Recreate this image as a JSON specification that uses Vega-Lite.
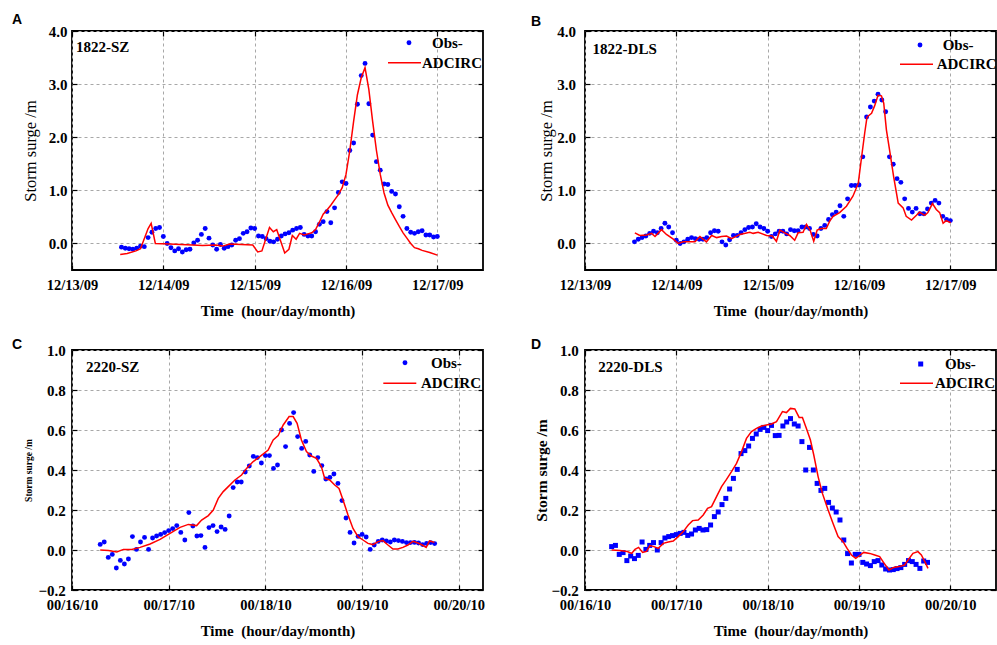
{
"$schema":"https://vega.github.io/schema/vega-lite/v6.json",
"autosize":{"type":"none"},
"padding":{"left":72,"top":31,"right":925,"bottom":614},
"background":"white",
"config":{
"view":{"stroke":"black","strokeWidth":1.8},
"axis":{"domain":false,"ticks":true,"tickSize":-5,"tickColor":"black","tickWidth":1.2,"labelFont":"Liberation Serif","labelFontWeight":"bold","labelFontSize":14.5,"labelColor":"black","labelFlush":false,"labelOverlap":false,"gridColor":"#a8a8a8","gridDash":[3,3],"gridWidth":1,"titleFont":"Liberation Serif","titleFontWeight":"bold","titleFontSize":15,"titleColor":"black"},
"legend":{"labelFont":"Liberation Serif","labelFontWeight":"bold","labelFontSize":15,"labelColor":"black","padding":0},
"title":{"font":"Liberation Sans","fontWeight":"bold","fontSize":14,"color":"black","anchor":"start","frame":"group"}
},
"datasets":{
"A":[
{"t":"2018-09-14T01:00","v":-0.07,"s":"Obs-"},{"t":"2018-09-14T02:00","v":-0.09,"s":"Obs-"},{"t":"2018-09-14T03:00","v":-0.10,"s":"Obs-"},{"t":"2018-09-14T04:00","v":-0.11,"s":"Obs-"},{"t":"2018-09-14T05:00","v":-0.09,"s":"Obs-"},{"t":"2018-09-14T06:00","v":-0.05,"s":"Obs-"},{"t":"2018-09-14T07:00","v":-0.06,"s":"Obs-"},{"t":"2018-09-14T08:00","v":0.11,"s":"Obs-"},{"t":"2018-09-14T09:00","v":0.21,"s":"Obs-"},{"t":"2018-09-14T10:00","v":0.28,"s":"Obs-"},{"t":"2018-09-14T11:00","v":0.30,"s":"Obs-"},{"t":"2018-09-14T12:00","v":0.13,"s":"Obs-"},{"t":"2018-09-14T13:00","v":0.00,"s":"Obs-"},{"t":"2018-09-14T14:00","v":-0.08,"s":"Obs-"},{"t":"2018-09-14T15:00","v":-0.14,"s":"Obs-"},{"t":"2018-09-14T16:00","v":-0.10,"s":"Obs-"},{"t":"2018-09-14T17:00","v":-0.16,"s":"Obs-"},{"t":"2018-09-14T18:00","v":-0.12,"s":"Obs-"},{"t":"2018-09-14T19:00","v":-0.11,"s":"Obs-"},{"t":"2018-09-14T20:00","v":0.01,"s":"Obs-"},{"t":"2018-09-14T21:00","v":0.06,"s":"Obs-"},{"t":"2018-09-14T22:00","v":0.17,"s":"Obs-"},{"t":"2018-09-14T23:00","v":0.28,"s":"Obs-"},
{"t":"2018-09-15T00:00","v":0.10,"s":"Obs-"},{"t":"2018-09-15T01:00","v":-0.03,"s":"Obs-"},{"t":"2018-09-15T02:00","v":-0.11,"s":"Obs-"},{"t":"2018-09-15T03:00","v":-0.02,"s":"Obs-"},{"t":"2018-09-15T04:00","v":-0.09,"s":"Obs-"},{"t":"2018-09-15T05:00","v":-0.06,"s":"Obs-"},{"t":"2018-09-15T06:00","v":-0.03,"s":"Obs-"},{"t":"2018-09-15T07:00","v":0.06,"s":"Obs-"},{"t":"2018-09-15T08:00","v":0.09,"s":"Obs-"},{"t":"2018-09-15T09:00","v":0.19,"s":"Obs-"},{"t":"2018-09-15T10:00","v":0.22,"s":"Obs-"},{"t":"2018-09-15T11:00","v":0.29,"s":"Obs-"},{"t":"2018-09-15T12:00","v":0.28,"s":"Obs-"},{"t":"2018-09-15T13:00","v":0.14,"s":"Obs-"},{"t":"2018-09-15T14:00","v":0.13,"s":"Obs-"},{"t":"2018-09-15T15:00","v":0.09,"s":"Obs-"},{"t":"2018-09-15T16:00","v":0.04,"s":"Obs-"},{"t":"2018-09-15T17:00","v":0.03,"s":"Obs-"},{"t":"2018-09-15T18:00","v":0.08,"s":"Obs-"},{"t":"2018-09-15T19:00","v":0.14,"s":"Obs-"},{"t":"2018-09-15T20:00","v":0.18,"s":"Obs-"},{"t":"2018-09-15T21:00","v":0.20,"s":"Obs-"},{"t":"2018-09-15T22:00","v":0.25,"s":"Obs-"},{"t":"2018-09-15T23:00","v":0.28,"s":"Obs-"},
{"t":"2018-09-16T00:00","v":0.30,"s":"Obs-"},{"t":"2018-09-16T01:00","v":0.17,"s":"Obs-"},{"t":"2018-09-16T02:00","v":0.14,"s":"Obs-"},{"t":"2018-09-16T03:00","v":0.14,"s":"Obs-"},{"t":"2018-09-16T04:00","v":0.22,"s":"Obs-"},{"t":"2018-09-16T05:00","v":0.36,"s":"Obs-"},{"t":"2018-09-16T06:00","v":0.41,"s":"Obs-"},{"t":"2018-09-16T07:00","v":0.60,"s":"Obs-"},{"t":"2018-09-16T08:00","v":0.39,"s":"Obs-"},{"t":"2018-09-16T09:00","v":0.67,"s":"Obs-"},{"t":"2018-09-16T10:00","v":0.96,"s":"Obs-"},{"t":"2018-09-16T11:00","v":1.16,"s":"Obs-"},{"t":"2018-09-16T12:00","v":1.13,"s":"Obs-"},{"t":"2018-09-16T13:00","v":1.75,"s":"Obs-"},{"t":"2018-09-16T14:00","v":1.89,"s":"Obs-"},{"t":"2018-09-16T15:00","v":2.62,"s":"Obs-"},{"t":"2018-09-16T16:00","v":3.16,"s":"Obs-"},{"t":"2018-09-16T17:00","v":3.39,"s":"Obs-"},{"t":"2018-09-16T18:00","v":2.63,"s":"Obs-"},{"t":"2018-09-16T19:00","v":2.04,"s":"Obs-"},{"t":"2018-09-16T20:00","v":1.54,"s":"Obs-"},{"t":"2018-09-16T21:00","v":1.38,"s":"Obs-"},{"t":"2018-09-16T22:00","v":1.12,"s":"Obs-"},{"t":"2018-09-16T23:00","v":1.11,"s":"Obs-"},
{"t":"2018-09-17T00:00","v":0.98,"s":"Obs-"},{"t":"2018-09-17T01:00","v":0.93,"s":"Obs-"},{"t":"2018-09-17T02:00","v":0.69,"s":"Obs-"},{"t":"2018-09-17T03:00","v":0.51,"s":"Obs-"},{"t":"2018-09-17T04:00","v":0.28,"s":"Obs-"},{"t":"2018-09-17T05:00","v":0.21,"s":"Obs-"},{"t":"2018-09-17T06:00","v":0.19,"s":"Obs-"},{"t":"2018-09-17T07:00","v":0.22,"s":"Obs-"},{"t":"2018-09-17T08:00","v":0.24,"s":"Obs-"},{"t":"2018-09-17T09:00","v":0.16,"s":"Obs-"},{"t":"2018-09-17T10:00","v":0.16,"s":"Obs-"},{"t":"2018-09-17T11:00","v":0.12,"s":"Obs-"},{"t":"2018-09-17T12:00","v":0.13,"s":"Obs-"},
{"t":"2018-09-14T00:40","v":-0.21,"s":"ADCIRC"},{"t":"2018-09-14T02:30","v":-0.19,"s":"ADCIRC"},{"t":"2018-09-14T04:48","v":-0.14,"s":"ADCIRC"},{"t":"2018-09-14T06:00","v":-0.10,"s":"ADCIRC"},{"t":"2018-09-14T08:00","v":0.28,"s":"ADCIRC"},{"t":"2018-09-14T08:48","v":0.38,"s":"ADCIRC"},{"t":"2018-09-14T09:54","v":0.00,"s":"ADCIRC"},{"t":"2018-09-14T13:30","v":-0.01,"s":"ADCIRC"},{"t":"2018-09-14T19:42","v":-0.03,"s":"ADCIRC"},{"t":"2018-09-14T22:18","v":-0.04,"s":"ADCIRC"},{"t":"2018-09-15T01:48","v":-0.03,"s":"ADCIRC"},{"t":"2018-09-15T03:36","v":-0.05,"s":"ADCIRC"},{"t":"2018-09-15T05:24","v":-0.01,"s":"ADCIRC"},{"t":"2018-09-15T11:30","v":-0.03,"s":"ADCIRC"},{"t":"2018-09-15T12:48","v":-0.16,"s":"ADCIRC"},{"t":"2018-09-15T13:54","v":-0.14,"s":"ADCIRC"},{"t":"2018-09-15T15:54","v":0.30,"s":"ADCIRC"},{"t":"2018-09-15T16:54","v":0.22,"s":"ADCIRC"},{"t":"2018-09-15T17:48","v":0.26,"s":"ADCIRC"},{"t":"2018-09-15T19:54","v":-0.18,"s":"ADCIRC"},{"t":"2018-09-15T21:00","v":-0.11,"s":"ADCIRC"},{"t":"2018-09-15T21:54","v":0.15,"s":"ADCIRC"},{"t":"2018-09-15T22:54","v":0.08,"s":"ADCIRC"},{"t":"2018-09-15T23:48","v":0.19,"s":"ADCIRC"},
{"t":"2018-09-16T01:00","v":0.16,"s":"ADCIRC"},{"t":"2018-09-16T02:00","v":0.18,"s":"ADCIRC"},{"t":"2018-09-16T03:00","v":0.20,"s":"ADCIRC"},{"t":"2018-09-16T04:00","v":0.26,"s":"ADCIRC"},{"t":"2018-09-16T05:00","v":0.40,"s":"ADCIRC"},{"t":"2018-09-16T06:00","v":0.55,"s":"ADCIRC"},{"t":"2018-09-16T07:00","v":0.63,"s":"ADCIRC"},{"t":"2018-09-16T08:00","v":0.72,"s":"ADCIRC"},{"t":"2018-09-16T09:00","v":0.82,"s":"ADCIRC"},{"t":"2018-09-16T10:00","v":0.92,"s":"ADCIRC"},{"t":"2018-09-16T11:00","v":1.05,"s":"ADCIRC"},{"t":"2018-09-16T12:00","v":1.30,"s":"ADCIRC"},{"t":"2018-09-16T13:00","v":1.75,"s":"ADCIRC"},{"t":"2018-09-16T14:00","v":2.30,"s":"ADCIRC"},{"t":"2018-09-16T15:00","v":2.80,"s":"ADCIRC"},{"t":"2018-09-16T16:00","v":3.12,"s":"ADCIRC"},{"t":"2018-09-16T17:00","v":3.31,"s":"ADCIRC"},{"t":"2018-09-16T18:00","v":2.90,"s":"ADCIRC"},{"t":"2018-09-16T19:00","v":2.30,"s":"ADCIRC"},{"t":"2018-09-16T20:00","v":1.75,"s":"ADCIRC"},{"t":"2018-09-16T21:00","v":1.30,"s":"ADCIRC"},{"t":"2018-09-16T22:00","v":0.95,"s":"ADCIRC"},{"t":"2018-09-16T23:00","v":0.72,"s":"ADCIRC"},{"t":"2018-09-17T00:00","v":0.58,"s":"ADCIRC"},{"t":"2018-09-17T01:00","v":0.45,"s":"ADCIRC"},{"t":"2018-09-17T02:00","v":0.32,"s":"ADCIRC"},{"t":"2018-09-17T03:00","v":0.20,"s":"ADCIRC"},{"t":"2018-09-17T04:00","v":0.10,"s":"ADCIRC"},{"t":"2018-09-17T05:00","v":0.00,"s":"ADCIRC"},{"t":"2018-09-17T06:00","v":-0.08,"s":"ADCIRC"},{"t":"2018-09-17T07:00","v":-0.10,"s":"ADCIRC"},{"t":"2018-09-17T08:00","v":-0.13,"s":"ADCIRC"},{"t":"2018-09-17T10:00","v":-0.17,"s":"ADCIRC"},{"t":"2018-09-17T12:00","v":-0.22,"s":"ADCIRC"}
],
"B":[
{"t":"2018-09-14T01:00","v":0.03,"s":"Obs-"},{"t":"2018-09-14T02:00","v":0.08,"s":"Obs-"},{"t":"2018-09-14T03:00","v":0.11,"s":"Obs-"},{"t":"2018-09-14T04:00","v":0.14,"s":"Obs-"},{"t":"2018-09-14T05:00","v":0.19,"s":"Obs-"},{"t":"2018-09-14T06:00","v":0.23,"s":"Obs-"},{"t":"2018-09-14T07:00","v":0.20,"s":"Obs-"},{"t":"2018-09-14T08:00","v":0.28,"s":"Obs-"},{"t":"2018-09-14T09:00","v":0.38,"s":"Obs-"},{"t":"2018-09-14T10:00","v":0.31,"s":"Obs-"},{"t":"2018-09-14T11:00","v":0.20,"s":"Obs-"},{"t":"2018-09-14T12:00","v":0.06,"s":"Obs-"},{"t":"2018-09-14T13:00","v":0.00,"s":"Obs-"},{"t":"2018-09-14T14:00","v":0.03,"s":"Obs-"},{"t":"2018-09-14T15:00","v":0.08,"s":"Obs-"},{"t":"2018-09-14T16:00","v":0.11,"s":"Obs-"},{"t":"2018-09-14T17:00","v":0.09,"s":"Obs-"},{"t":"2018-09-14T18:00","v":0.08,"s":"Obs-"},{"t":"2018-09-14T19:00","v":0.08,"s":"Obs-"},{"t":"2018-09-14T20:00","v":0.11,"s":"Obs-"},{"t":"2018-09-14T21:00","v":0.20,"s":"Obs-"},{"t":"2018-09-14T22:00","v":0.24,"s":"Obs-"},{"t":"2018-09-14T23:00","v":0.23,"s":"Obs-"},
{"t":"2018-09-15T00:00","v":0.03,"s":"Obs-"},{"t":"2018-09-15T01:00","v":-0.03,"s":"Obs-"},{"t":"2018-09-15T02:00","v":0.07,"s":"Obs-"},{"t":"2018-09-15T03:00","v":0.15,"s":"Obs-"},{"t":"2018-09-15T04:00","v":0.15,"s":"Obs-"},{"t":"2018-09-15T05:00","v":0.20,"s":"Obs-"},{"t":"2018-09-15T06:00","v":0.26,"s":"Obs-"},{"t":"2018-09-15T07:00","v":0.30,"s":"Obs-"},{"t":"2018-09-15T08:00","v":0.31,"s":"Obs-"},{"t":"2018-09-15T09:00","v":0.37,"s":"Obs-"},{"t":"2018-09-15T10:00","v":0.31,"s":"Obs-"},{"t":"2018-09-15T11:00","v":0.28,"s":"Obs-"},{"t":"2018-09-15T12:00","v":0.23,"s":"Obs-"},{"t":"2018-09-15T13:00","v":0.13,"s":"Obs-"},{"t":"2018-09-15T14:00","v":0.18,"s":"Obs-"},{"t":"2018-09-15T15:00","v":0.23,"s":"Obs-"},{"t":"2018-09-15T16:00","v":0.23,"s":"Obs-"},{"t":"2018-09-15T17:00","v":0.18,"s":"Obs-"},{"t":"2018-09-15T18:00","v":0.26,"s":"Obs-"},{"t":"2018-09-15T19:00","v":0.24,"s":"Obs-"},{"t":"2018-09-15T20:00","v":0.24,"s":"Obs-"},{"t":"2018-09-15T21:00","v":0.31,"s":"Obs-"},{"t":"2018-09-15T22:00","v":0.31,"s":"Obs-"},{"t":"2018-09-15T23:00","v":0.28,"s":"Obs-"},
{"t":"2018-09-16T00:00","v":0.17,"s":"Obs-"},{"t":"2018-09-16T01:00","v":0.14,"s":"Obs-"},{"t":"2018-09-16T02:00","v":0.28,"s":"Obs-"},{"t":"2018-09-16T03:00","v":0.34,"s":"Obs-"},{"t":"2018-09-16T04:00","v":0.45,"s":"Obs-"},{"t":"2018-09-16T05:00","v":0.54,"s":"Obs-"},{"t":"2018-09-16T06:00","v":0.59,"s":"Obs-"},{"t":"2018-09-16T07:00","v":0.71,"s":"Obs-"},{"t":"2018-09-16T08:00","v":0.51,"s":"Obs-"},{"t":"2018-09-16T09:00","v":0.84,"s":"Obs-"},{"t":"2018-09-16T10:00","v":1.09,"s":"Obs-"},{"t":"2018-09-16T11:00","v":1.09,"s":"Obs-"},{"t":"2018-09-16T12:00","v":1.10,"s":"Obs-"},{"t":"2018-09-16T13:00","v":1.63,"s":"Obs-"},{"t":"2018-09-16T14:00","v":2.38,"s":"Obs-"},{"t":"2018-09-16T15:00","v":2.57,"s":"Obs-"},{"t":"2018-09-16T16:00","v":2.68,"s":"Obs-"},{"t":"2018-09-16T17:00","v":2.81,"s":"Obs-"},{"t":"2018-09-16T18:00","v":2.70,"s":"Obs-"},{"t":"2018-09-16T19:00","v":2.48,"s":"Obs-"},{"t":"2018-09-16T20:00","v":1.63,"s":"Obs-"},{"t":"2018-09-16T21:00","v":1.49,"s":"Obs-"},{"t":"2018-09-16T22:00","v":1.22,"s":"Obs-"},{"t":"2018-09-16T23:00","v":1.15,"s":"Obs-"},
{"t":"2018-09-17T00:00","v":0.84,"s":"Obs-"},{"t":"2018-09-17T01:00","v":0.66,"s":"Obs-"},{"t":"2018-09-17T02:00","v":0.59,"s":"Obs-"},{"t":"2018-09-17T03:00","v":0.66,"s":"Obs-"},{"t":"2018-09-17T04:00","v":0.56,"s":"Obs-"},{"t":"2018-09-17T05:00","v":0.56,"s":"Obs-"},{"t":"2018-09-17T06:00","v":0.65,"s":"Obs-"},{"t":"2018-09-17T07:00","v":0.76,"s":"Obs-"},{"t":"2018-09-17T08:00","v":0.81,"s":"Obs-"},{"t":"2018-09-17T09:00","v":0.76,"s":"Obs-"},{"t":"2018-09-17T10:00","v":0.51,"s":"Obs-"},{"t":"2018-09-17T11:00","v":0.45,"s":"Obs-"},{"t":"2018-09-17T12:00","v":0.43,"s":"Obs-"},
{"t":"2018-09-14T01:06","v":0.20,"s":"ADCIRC"},{"t":"2018-09-14T02:24","v":0.15,"s":"ADCIRC"},{"t":"2018-09-14T04:12","v":0.16,"s":"ADCIRC"},{"t":"2018-09-14T05:30","v":0.19,"s":"ADCIRC"},{"t":"2018-09-14T06:24","v":0.13,"s":"ADCIRC"},{"t":"2018-09-14T08:06","v":0.26,"s":"ADCIRC"},{"t":"2018-09-14T09:24","v":0.17,"s":"ADCIRC"},{"t":"2018-09-14T11:12","v":0.08,"s":"ADCIRC"},{"t":"2018-09-14T12:30","v":0.00,"s":"ADCIRC"},{"t":"2018-09-14T13:48","v":0.03,"s":"ADCIRC"},{"t":"2018-09-14T15:36","v":0.03,"s":"ADCIRC"},{"t":"2018-09-14T16:54","v":0.03,"s":"ADCIRC"},{"t":"2018-09-14T18:12","v":0.13,"s":"ADCIRC"},{"t":"2018-09-14T19:54","v":0.03,"s":"ADCIRC"},{"t":"2018-09-14T21:18","v":0.15,"s":"ADCIRC"},{"t":"2018-09-14T22:36","v":0.11,"s":"ADCIRC"},{"t":"2018-09-14T23:54","v":0.13,"s":"ADCIRC"},{"t":"2018-09-15T01:12","v":0.14,"s":"ADCIRC"},{"t":"2018-09-15T02:30","v":0.09,"s":"ADCIRC"},{"t":"2018-09-15T04:42","v":0.17,"s":"ADCIRC"},{"t":"2018-09-15T07:18","v":0.21,"s":"ADCIRC"},{"t":"2018-09-15T08:12","v":0.19,"s":"ADCIRC"},{"t":"2018-09-15T09:30","v":0.21,"s":"ADCIRC"},{"t":"2018-09-15T11:42","v":0.15,"s":"ADCIRC"},{"t":"2018-09-15T13:12","v":0.14,"s":"ADCIRC"},{"t":"2018-09-15T14:18","v":0.04,"s":"ADCIRC"},{"t":"2018-09-15T15:12","v":0.25,"s":"ADCIRC"},{"t":"2018-09-15T16:30","v":0.20,"s":"ADCIRC"},{"t":"2018-09-15T17:48","v":0.15,"s":"ADCIRC"},{"t":"2018-09-15T19:06","v":0.06,"s":"ADCIRC"},{"t":"2018-09-15T20:00","v":0.20,"s":"ADCIRC"},{"t":"2018-09-15T21:18","v":0.21,"s":"ADCIRC"},{"t":"2018-09-15T22:12","v":0.36,"s":"ADCIRC"},{"t":"2018-09-15T23:12","v":0.24,"s":"ADCIRC"},
{"t":"2018-09-16T00:06","v":0.04,"s":"ADCIRC"},{"t":"2018-09-16T01:00","v":0.25,"s":"ADCIRC"},{"t":"2018-09-16T02:06","v":0.28,"s":"ADCIRC"},{"t":"2018-09-16T03:24","v":0.28,"s":"ADCIRC"},{"t":"2018-09-16T04:18","v":0.42,"s":"ADCIRC"},{"t":"2018-09-16T05:12","v":0.51,"s":"ADCIRC"},{"t":"2018-09-16T06:54","v":0.58,"s":"ADCIRC"},{"t":"2018-09-16T08:42","v":0.70,"s":"ADCIRC"},{"t":"2018-09-16T10:24","v":0.89,"s":"ADCIRC"},{"t":"2018-09-16T11:48","v":1.13,"s":"ADCIRC"},{"t":"2018-09-16T12:36","v":1.58,"s":"ADCIRC"},{"t":"2018-09-16T13:30","v":2.08,"s":"ADCIRC"},{"t":"2018-09-16T14:06","v":2.38,"s":"ADCIRC"},{"t":"2018-09-16T15:18","v":2.45,"s":"ADCIRC"},{"t":"2018-09-16T16:06","v":2.59,"s":"ADCIRC"},{"t":"2018-09-16T17:00","v":2.79,"s":"ADCIRC"},{"t":"2018-09-16T17:54","v":2.78,"s":"ADCIRC"},{"t":"2018-09-16T18:30","v":2.64,"s":"ADCIRC"},{"t":"2018-09-16T19:12","v":2.14,"s":"ADCIRC"},{"t":"2018-09-16T20:06","v":1.73,"s":"ADCIRC"},{"t":"2018-09-16T21:06","v":1.26,"s":"ADCIRC"},{"t":"2018-09-16T22:18","v":0.76,"s":"ADCIRC"},{"t":"2018-09-16T23:36","v":0.67,"s":"ADCIRC"},{"t":"2018-09-17T00:24","v":0.51,"s":"ADCIRC"},{"t":"2018-09-17T01:48","v":0.44,"s":"ADCIRC"},{"t":"2018-09-17T03:06","v":0.53,"s":"ADCIRC"},{"t":"2018-09-17T03:54","v":0.59,"s":"ADCIRC"},{"t":"2018-09-17T05:18","v":0.53,"s":"ADCIRC"},{"t":"2018-09-17T06:06","v":0.58,"s":"ADCIRC"},{"t":"2018-09-17T07:18","v":0.75,"s":"ADCIRC"},{"t":"2018-09-17T08:18","v":0.64,"s":"ADCIRC"},{"t":"2018-09-17T09:12","v":0.58,"s":"ADCIRC"},{"t":"2018-09-17T10:06","v":0.38,"s":"ADCIRC"},{"t":"2018-09-17T10:54","v":0.43,"s":"ADCIRC"},{"t":"2018-09-17T12:06","v":0.39,"s":"ADCIRC"}
],
"C":[
{"t":"2022-10-16T07:00","v":0.028,"s":"Obs-"},{"t":"2022-10-16T08:00","v":0.040,"s":"Obs-"},{"t":"2022-10-16T09:00","v":-0.037,"s":"Obs-"},{"t":"2022-10-16T10:00","v":-0.022,"s":"Obs-"},{"t":"2022-10-16T11:00","v":-0.090,"s":"Obs-"},{"t":"2022-10-16T12:00","v":-0.052,"s":"Obs-"},{"t":"2022-10-16T13:00","v":-0.070,"s":"Obs-"},{"t":"2022-10-16T14:00","v":-0.045,"s":"Obs-"},{"t":"2022-10-16T15:00","v":0.067,"s":"Obs-"},{"t":"2022-10-16T16:00","v":0.003,"s":"Obs-"},{"t":"2022-10-16T17:00","v":0.040,"s":"Obs-"},{"t":"2022-10-16T18:00","v":0.063,"s":"Obs-"},{"t":"2022-10-16T19:00","v":0.003,"s":"Obs-"},{"t":"2022-10-16T20:00","v":0.060,"s":"Obs-"},{"t":"2022-10-16T21:00","v":0.070,"s":"Obs-"},{"t":"2022-10-16T22:00","v":0.078,"s":"Obs-"},{"t":"2022-10-16T23:00","v":0.087,"s":"Obs-"},
{"t":"2022-10-17T00:00","v":0.097,"s":"Obs-"},{"t":"2022-10-17T01:00","v":0.107,"s":"Obs-"},{"t":"2022-10-17T02:00","v":0.122,"s":"Obs-"},{"t":"2022-10-17T03:00","v":0.088,"s":"Obs-"},{"t":"2022-10-17T04:00","v":0.050,"s":"Obs-"},{"t":"2022-10-17T05:00","v":0.187,"s":"Obs-"},{"t":"2022-10-17T06:00","v":0.120,"s":"Obs-"},{"t":"2022-10-17T07:00","v":0.070,"s":"Obs-"},{"t":"2022-10-17T08:00","v":0.072,"s":"Obs-"},{"t":"2022-10-17T09:00","v":0.013,"s":"Obs-"},{"t":"2022-10-17T10:00","v":0.112,"s":"Obs-"},{"t":"2022-10-17T11:00","v":0.122,"s":"Obs-"},{"t":"2022-10-17T12:00","v":0.092,"s":"Obs-"},{"t":"2022-10-17T13:00","v":0.115,"s":"Obs-"},{"t":"2022-10-17T14:00","v":0.103,"s":"Obs-"},{"t":"2022-10-17T15:00","v":0.170,"s":"Obs-"},{"t":"2022-10-17T16:00","v":0.312,"s":"Obs-"},{"t":"2022-10-17T17:00","v":0.340,"s":"Obs-"},{"t":"2022-10-17T18:00","v":0.340,"s":"Obs-"},{"t":"2022-10-17T19:00","v":0.390,"s":"Obs-"},{"t":"2022-10-17T20:00","v":0.420,"s":"Obs-"},{"t":"2022-10-17T21:00","v":0.468,"s":"Obs-"},{"t":"2022-10-17T22:00","v":0.462,"s":"Obs-"},{"t":"2022-10-17T23:00","v":0.435,"s":"Obs-"},
{"t":"2022-10-18T00:00","v":0.472,"s":"Obs-"},{"t":"2022-10-18T01:00","v":0.472,"s":"Obs-"},{"t":"2022-10-18T02:00","v":0.408,"s":"Obs-"},{"t":"2022-10-18T03:00","v":0.425,"s":"Obs-"},{"t":"2022-10-18T04:00","v":0.600,"s":"Obs-"},{"t":"2022-10-18T05:00","v":0.517,"s":"Obs-"},{"t":"2022-10-18T06:00","v":0.633,"s":"Obs-"},{"t":"2022-10-18T07:00","v":0.687,"s":"Obs-"},{"t":"2022-10-18T08:00","v":0.567,"s":"Obs-"},{"t":"2022-10-18T09:00","v":0.508,"s":"Obs-"},{"t":"2022-10-18T10:00","v":0.543,"s":"Obs-"},{"t":"2022-10-18T11:00","v":0.475,"s":"Obs-"},{"t":"2022-10-18T12:00","v":0.393,"s":"Obs-"},{"t":"2022-10-18T13:00","v":0.462,"s":"Obs-"},{"t":"2022-10-18T14:00","v":0.422,"s":"Obs-"},{"t":"2022-10-18T15:00","v":0.355,"s":"Obs-"},{"t":"2022-10-18T16:00","v":0.363,"s":"Obs-"},{"t":"2022-10-18T17:00","v":0.380,"s":"Obs-"},{"t":"2022-10-18T18:00","v":0.333,"s":"Obs-"},{"t":"2022-10-18T19:00","v":0.247,"s":"Obs-"},{"t":"2022-10-18T20:00","v":0.160,"s":"Obs-"},{"t":"2022-10-18T21:00","v":0.088,"s":"Obs-"},{"t":"2022-10-18T22:00","v":0.035,"s":"Obs-"},{"t":"2022-10-18T23:00","v":0.068,"s":"Obs-"},
{"t":"2022-10-19T00:00","v":0.078,"s":"Obs-"},{"t":"2022-10-19T01:00","v":0.065,"s":"Obs-"},{"t":"2022-10-19T02:00","v":0.003,"s":"Obs-"},{"t":"2022-10-19T03:00","v":0.025,"s":"Obs-"},{"t":"2022-10-19T04:00","v":0.043,"s":"Obs-"},{"t":"2022-10-19T05:00","v":0.050,"s":"Obs-"},{"t":"2022-10-19T06:00","v":0.045,"s":"Obs-"},{"t":"2022-10-19T07:00","v":0.040,"s":"Obs-"},{"t":"2022-10-19T08:00","v":0.050,"s":"Obs-"},{"t":"2022-10-19T09:00","v":0.047,"s":"Obs-"},{"t":"2022-10-19T10:00","v":0.043,"s":"Obs-"},{"t":"2022-10-19T11:00","v":0.037,"s":"Obs-"},{"t":"2022-10-19T12:00","v":0.037,"s":"Obs-"},{"t":"2022-10-19T13:00","v":0.038,"s":"Obs-"},{"t":"2022-10-19T14:00","v":0.035,"s":"Obs-"},{"t":"2022-10-19T15:00","v":0.027,"s":"Obs-"},{"t":"2022-10-19T16:00","v":0.033,"s":"Obs-"},{"t":"2022-10-19T17:00","v":0.037,"s":"Obs-"},{"t":"2022-10-19T18:00","v":0.032,"s":"Obs-"},
{"t":"2022-10-16T07:00","v":0.000,"s":"ADCIRC"},{"t":"2022-10-16T09:04","v":-0.003,"s":"ADCIRC"},{"t":"2022-10-16T11:07","v":-0.010,"s":"ADCIRC"},{"t":"2022-10-16T12:46","v":0.003,"s":"ADCIRC"},{"t":"2022-10-16T14:50","v":0.003,"s":"ADCIRC"},{"t":"2022-10-16T16:54","v":0.013,"s":"ADCIRC"},{"t":"2022-10-16T19:23","v":0.030,"s":"ADCIRC"},{"t":"2022-10-16T21:51","v":0.053,"s":"ADCIRC"},{"t":"2022-10-17T00:20","v":0.083,"s":"ADCIRC"},{"t":"2022-10-17T02:49","v":0.113,"s":"ADCIRC"},{"t":"2022-10-17T04:52","v":0.128,"s":"ADCIRC"},{"t":"2022-10-17T06:56","v":0.122,"s":"ADCIRC"},{"t":"2022-10-17T08:10","v":0.150,"s":"ADCIRC"},{"t":"2022-10-17T09:50","v":0.172,"s":"ADCIRC"},{"t":"2022-10-17T11:04","v":0.200,"s":"ADCIRC"},{"t":"2022-10-17T12:18","v":0.258,"s":"ADCIRC"},{"t":"2022-10-17T13:32","v":0.292,"s":"ADCIRC"},{"t":"2022-10-17T14:47","v":0.317,"s":"ADCIRC"},{"t":"2022-10-17T16:26","v":0.350,"s":"ADCIRC"},{"t":"2022-10-17T18:05","v":0.375,"s":"ADCIRC"},{"t":"2022-10-17T19:19","v":0.408,"s":"ADCIRC"},{"t":"2022-10-17T20:58","v":0.442,"s":"ADCIRC"},{"t":"2022-10-17T22:37","v":0.467,"s":"ADCIRC"},{"t":"2022-10-18T00:41","v":0.500,"s":"ADCIRC"},{"t":"2022-10-18T01:56","v":0.550,"s":"ADCIRC"},{"t":"2022-10-18T03:10","v":0.572,"s":"ADCIRC"},{"t":"2022-10-18T04:25","v":0.625,"s":"ADCIRC"},{"t":"2022-10-18T05:53","v":0.667,"s":"ADCIRC"},{"t":"2022-10-18T06:53","v":0.667,"s":"ADCIRC"},{"t":"2022-10-18T07:52","v":0.633,"s":"ADCIRC"},{"t":"2022-10-18T08:56","v":0.550,"s":"ADCIRC"},{"t":"2022-10-18T10:11","v":0.492,"s":"ADCIRC"},{"t":"2022-10-18T11:25","v":0.470,"s":"ADCIRC"},{"t":"2022-10-18T12:40","v":0.458,"s":"ADCIRC"},{"t":"2022-10-18T13:53","v":0.417,"s":"ADCIRC"},{"t":"2022-10-18T14:43","v":0.358,"s":"ADCIRC"},{"t":"2022-10-18T15:58","v":0.350,"s":"ADCIRC"},{"t":"2022-10-18T17:12","v":0.325,"s":"ADCIRC"},{"t":"2022-10-18T18:16","v":0.308,"s":"ADCIRC"},{"t":"2022-10-18T19:16","v":0.250,"s":"ADCIRC"},{"t":"2022-10-18T20:30","v":0.175,"s":"ADCIRC"},{"t":"2022-10-18T21:44","v":0.108,"s":"ADCIRC"},{"t":"2022-10-18T22:59","v":0.067,"s":"ADCIRC"},{"t":"2022-10-19T00:13","v":0.050,"s":"ADCIRC"},{"t":"2022-10-19T01:27","v":0.033,"s":"ADCIRC"},{"t":"2022-10-19T02:41","v":0.027,"s":"ADCIRC"},{"t":"2022-10-19T03:56","v":0.042,"s":"ADCIRC"},{"t":"2022-10-19T05:10","v":0.047,"s":"ADCIRC"},{"t":"2022-10-19T06:25","v":0.025,"s":"ADCIRC"},{"t":"2022-10-19T07:39","v":0.005,"s":"ADCIRC"},{"t":"2022-10-19T08:53","v":0.005,"s":"ADCIRC"},{"t":"2022-10-19T10:07","v":0.013,"s":"ADCIRC"},{"t":"2022-10-19T11:22","v":0.025,"s":"ADCIRC"},{"t":"2022-10-19T12:36","v":0.043,"s":"ADCIRC"},{"t":"2022-10-19T13:50","v":0.035,"s":"ADCIRC"},{"t":"2022-10-19T14:55","v":0.025,"s":"ADCIRC"},{"t":"2022-10-19T15:54","v":0.013,"s":"ADCIRC"},{"t":"2022-10-19T16:44","v":0.045,"s":"ADCIRC"},{"t":"2022-10-19T17:58","v":0.038,"s":"ADCIRC"}
],
"D":[
{"t":"2022-10-16T07:00","v":0.017,"s":"Obs-"},{"t":"2022-10-16T08:00","v":0.023,"s":"Obs-"},{"t":"2022-10-16T09:00","v":-0.022,"s":"Obs-"},{"t":"2022-10-16T10:00","v":-0.013,"s":"Obs-"},{"t":"2022-10-16T11:00","v":-0.053,"s":"Obs-"},{"t":"2022-10-16T12:00","v":-0.030,"s":"Obs-"},{"t":"2022-10-16T13:00","v":-0.043,"s":"Obs-"},{"t":"2022-10-16T14:00","v":-0.027,"s":"Obs-"},{"t":"2022-10-16T15:00","v":0.040,"s":"Obs-"},{"t":"2022-10-16T16:00","v":0.003,"s":"Obs-"},{"t":"2022-10-16T17:00","v":0.023,"s":"Obs-"},{"t":"2022-10-16T18:00","v":0.037,"s":"Obs-"},{"t":"2022-10-16T19:00","v":0.000,"s":"Obs-"},{"t":"2022-10-16T20:00","v":0.037,"s":"Obs-"},{"t":"2022-10-16T21:00","v":0.060,"s":"Obs-"},{"t":"2022-10-16T22:00","v":0.067,"s":"Obs-"},{"t":"2022-10-16T23:00","v":0.072,"s":"Obs-"},
{"t":"2022-10-17T00:00","v":0.077,"s":"Obs-"},{"t":"2022-10-17T01:00","v":0.083,"s":"Obs-"},{"t":"2022-10-17T02:00","v":0.088,"s":"Obs-"},{"t":"2022-10-17T03:00","v":0.073,"s":"Obs-"},{"t":"2022-10-17T04:00","v":0.080,"s":"Obs-"},{"t":"2022-10-17T05:00","v":0.100,"s":"Obs-"},{"t":"2022-10-17T06:00","v":0.108,"s":"Obs-"},{"t":"2022-10-17T07:00","v":0.100,"s":"Obs-"},{"t":"2022-10-17T08:00","v":0.102,"s":"Obs-"},{"t":"2022-10-17T09:00","v":0.125,"s":"Obs-"},{"t":"2022-10-17T10:00","v":0.167,"s":"Obs-"},{"t":"2022-10-17T11:00","v":0.190,"s":"Obs-"},{"t":"2022-10-17T12:00","v":0.227,"s":"Obs-"},{"t":"2022-10-17T13:00","v":0.258,"s":"Obs-"},{"t":"2022-10-17T14:00","v":0.305,"s":"Obs-"},{"t":"2022-10-17T15:00","v":0.358,"s":"Obs-"},{"t":"2022-10-17T16:00","v":0.403,"s":"Obs-"},{"t":"2022-10-17T17:00","v":0.482,"s":"Obs-"},{"t":"2022-10-17T18:00","v":0.497,"s":"Obs-"},{"t":"2022-10-17T19:00","v":0.520,"s":"Obs-"},{"t":"2022-10-17T20:00","v":0.558,"s":"Obs-"},{"t":"2022-10-17T21:00","v":0.580,"s":"Obs-"},{"t":"2022-10-17T22:00","v":0.603,"s":"Obs-"},{"t":"2022-10-17T23:00","v":0.613,"s":"Obs-"},
{"t":"2022-10-18T00:00","v":0.597,"s":"Obs-"},{"t":"2022-10-18T01:00","v":0.623,"s":"Obs-"},{"t":"2022-10-18T02:00","v":0.572,"s":"Obs-"},{"t":"2022-10-18T03:00","v":0.573,"s":"Obs-"},{"t":"2022-10-18T04:00","v":0.620,"s":"Obs-"},{"t":"2022-10-18T05:00","v":0.640,"s":"Obs-"},{"t":"2022-10-18T06:00","v":0.657,"s":"Obs-"},{"t":"2022-10-18T07:00","v":0.630,"s":"Obs-"},{"t":"2022-10-18T08:00","v":0.620,"s":"Obs-"},{"t":"2022-10-18T09:00","v":0.542,"s":"Obs-"},{"t":"2022-10-18T10:00","v":0.400,"s":"Obs-"},{"t":"2022-10-18T11:00","v":0.513,"s":"Obs-"},{"t":"2022-10-18T12:00","v":0.400,"s":"Obs-"},{"t":"2022-10-18T13:00","v":0.333,"s":"Obs-"},{"t":"2022-10-18T14:00","v":0.298,"s":"Obs-"},{"t":"2022-10-18T15:00","v":0.308,"s":"Obs-"},{"t":"2022-10-18T16:00","v":0.238,"s":"Obs-"},{"t":"2022-10-18T17:00","v":0.210,"s":"Obs-"},{"t":"2022-10-18T18:00","v":0.190,"s":"Obs-"},{"t":"2022-10-18T19:00","v":0.150,"s":"Obs-"},{"t":"2022-10-18T20:00","v":0.050,"s":"Obs-"},{"t":"2022-10-18T21:00","v":-0.018,"s":"Obs-"},{"t":"2022-10-18T22:00","v":-0.065,"s":"Obs-"},{"t":"2022-10-18T23:00","v":-0.022,"s":"Obs-"},
{"t":"2022-10-19T00:00","v":-0.022,"s":"Obs-"},{"t":"2022-10-19T01:00","v":-0.062,"s":"Obs-"},{"t":"2022-10-19T02:00","v":-0.070,"s":"Obs-"},{"t":"2022-10-19T03:00","v":-0.078,"s":"Obs-"},{"t":"2022-10-19T04:00","v":-0.058,"s":"Obs-"},{"t":"2022-10-19T05:00","v":-0.053,"s":"Obs-"},{"t":"2022-10-19T06:00","v":-0.075,"s":"Obs-"},{"t":"2022-10-19T07:00","v":-0.095,"s":"Obs-"},{"t":"2022-10-19T08:00","v":-0.100,"s":"Obs-"},{"t":"2022-10-19T09:00","v":-0.098,"s":"Obs-"},{"t":"2022-10-19T10:00","v":-0.093,"s":"Obs-"},{"t":"2022-10-19T11:00","v":-0.088,"s":"Obs-"},{"t":"2022-10-19T12:00","v":-0.072,"s":"Obs-"},{"t":"2022-10-19T13:00","v":-0.053,"s":"Obs-"},{"t":"2022-10-19T14:00","v":-0.058,"s":"Obs-"},{"t":"2022-10-19T15:00","v":-0.072,"s":"Obs-"},{"t":"2022-10-19T16:00","v":-0.092,"s":"Obs-"},{"t":"2022-10-19T17:00","v":-0.055,"s":"Obs-"},{"t":"2022-10-19T18:00","v":-0.062,"s":"Obs-"},
{"t":"2022-10-16T07:00","v":0.000,"s":"ADCIRC"},{"t":"2022-10-16T09:11","v":-0.003,"s":"ADCIRC"},{"t":"2022-10-16T11:07","v":-0.008,"s":"ADCIRC"},{"t":"2022-10-16T12:15","v":-0.017,"s":"ADCIRC"},{"t":"2022-10-16T13:08","v":0.003,"s":"ADCIRC"},{"t":"2022-10-16T14:05","v":0.013,"s":"ADCIRC"},{"t":"2022-10-16T15:08","v":-0.012,"s":"ADCIRC"},{"t":"2022-10-16T16:11","v":-0.007,"s":"ADCIRC"},{"t":"2022-10-16T17:04","v":0.022,"s":"ADCIRC"},{"t":"2022-10-16T18:07","v":0.017,"s":"ADCIRC"},{"t":"2022-10-16T19:15","v":0.008,"s":"ADCIRC"},{"t":"2022-10-16T20:34","v":0.033,"s":"ADCIRC"},{"t":"2022-10-16T21:53","v":0.040,"s":"ADCIRC"},{"t":"2022-10-16T23:11","v":0.045,"s":"ADCIRC"},{"t":"2022-10-17T00:30","v":0.067,"s":"ADCIRC"},{"t":"2022-10-17T01:49","v":0.092,"s":"ADCIRC"},{"t":"2022-10-17T03:08","v":0.125,"s":"ADCIRC"},{"t":"2022-10-17T04:16","v":0.147,"s":"ADCIRC"},{"t":"2022-10-17T05:45","v":0.150,"s":"ADCIRC"},{"t":"2022-10-17T07:04","v":0.175,"s":"ADCIRC"},{"t":"2022-10-17T08:12","v":0.208,"s":"ADCIRC"},{"t":"2022-10-17T09:15","v":0.217,"s":"ADCIRC"},{"t":"2022-10-17T10:34","v":0.267,"s":"ADCIRC"},{"t":"2022-10-17T11:53","v":0.317,"s":"ADCIRC"},{"t":"2022-10-17T13:11","v":0.353,"s":"ADCIRC"},{"t":"2022-10-17T14:30","v":0.392,"s":"ADCIRC"},{"t":"2022-10-17T15:49","v":0.433,"s":"ADCIRC"},{"t":"2022-10-17T17:08","v":0.492,"s":"ADCIRC"},{"t":"2022-10-17T18:26","v":0.558,"s":"ADCIRC"},{"t":"2022-10-17T19:45","v":0.592,"s":"ADCIRC"},{"t":"2022-10-17T21:04","v":0.608,"s":"ADCIRC"},{"t":"2022-10-17T22:23","v":0.620,"s":"ADCIRC"},{"t":"2022-10-17T23:41","v":0.625,"s":"ADCIRC"},{"t":"2022-10-18T01:00","v":0.630,"s":"ADCIRC"},{"t":"2022-10-18T02:19","v":0.642,"s":"ADCIRC"},{"t":"2022-10-18T03:53","v":0.692,"s":"ADCIRC"},{"t":"2022-10-18T04:56","v":0.687,"s":"ADCIRC"},{"t":"2022-10-18T05:59","v":0.708,"s":"ADCIRC"},{"t":"2022-10-18T07:08","v":0.705,"s":"ADCIRC"},{"t":"2022-10-18T08:16","v":0.663,"s":"ADCIRC"},{"t":"2022-10-18T09:08","v":0.663,"s":"ADCIRC"},{"t":"2022-10-18T10:11","v":0.608,"s":"ADCIRC"},{"t":"2022-10-18T11:14","v":0.550,"s":"ADCIRC"},{"t":"2022-10-18T12:07","v":0.475,"s":"ADCIRC"},{"t":"2022-10-18T13:15","v":0.367,"s":"ADCIRC"},{"t":"2022-10-18T14:23","v":0.283,"s":"ADCIRC"},{"t":"2022-10-18T15:53","v":0.200,"s":"ADCIRC"},{"t":"2022-10-18T17:11","v":0.133,"s":"ADCIRC"},{"t":"2022-10-18T18:30","v":0.067,"s":"ADCIRC"},{"t":"2022-10-18T19:49","v":0.042,"s":"ADCIRC"},{"t":"2022-10-18T20:52","v":0.008,"s":"ADCIRC"},{"t":"2022-10-18T22:00","v":-0.025,"s":"ADCIRC"},{"t":"2022-10-18T23:08","v":-0.042,"s":"ADCIRC"},{"t":"2022-10-19T00:01","v":-0.030,"s":"ADCIRC"},{"t":"2022-10-19T01:14","v":-0.012,"s":"ADCIRC"},{"t":"2022-10-19T02:49","v":-0.017,"s":"ADCIRC"},{"t":"2022-10-19T04:08","v":-0.025,"s":"ADCIRC"},{"t":"2022-10-19T05:26","v":-0.033,"s":"ADCIRC"},{"t":"2022-10-19T06:29","v":-0.063,"s":"ADCIRC"},{"t":"2022-10-19T07:53","v":-0.100,"s":"ADCIRC"},{"t":"2022-10-19T09:07","v":-0.087,"s":"ADCIRC"},{"t":"2022-10-19T10:31","v":-0.083,"s":"ADCIRC"},{"t":"2022-10-19T12:00","v":-0.075,"s":"ADCIRC"},{"t":"2022-10-19T12:53","v":-0.050,"s":"ADCIRC"},{"t":"2022-10-19T14:11","v":-0.017,"s":"ADCIRC"},{"t":"2022-10-19T15:30","v":-0.008,"s":"ADCIRC"},{"t":"2022-10-19T16:23","v":-0.025,"s":"ADCIRC"},{"t":"2022-10-19T17:31","v":-0.067,"s":"ADCIRC"},{"t":"2022-10-19T18:08","v":-0.092,"s":"ADCIRC"}
]
},
"columns":2,
"spacing":{"row":80,"column":102},
"bounds":"flush",
"resolve":{"scale":{"color":"independent"},"legend":{"color":"independent"}},
"concat":[
{
"width":411,"height":239,
"title":{"text":"A","dx":-60,"offset":-3},
"data":{"name":"A"},
"layer":[
{"transform":[{"filter":"datum.s=='Obs-'"}],
"mark":{"type":"circle","size":24,"opacity":1},
"encoding":{
"x":{"field":"t","type":"temporal","scale":{"domain":[{"year":2018,"month":9,"date":13,"hours":12},{"year":2018,"month":9,"date":18,"hours":0}]},
"axis":{"orient":"bottom","values":[{"year":2018,"month":9,"date":13,"hours":12},{"year":2018,"month":9,"date":14,"hours":12},{"year":2018,"month":9,"date":15,"hours":12},{"year":2018,"month":9,"date":16,"hours":12},{"year":2018,"month":9,"date":17,"hours":12}],"format":"%H/%d/%m","grid":true,"labelPadding":13,"title":"Time \u00a0(hour/day/month)","titlePadding":12}},
"y":{"field":"v","type":"quantitative","scale":{"domain":[-0.5,4],"nice":false,"zero":false},
"axis":{"orient":"left","values":[0,1,2,3,4],"tickCount":20,"format":".1f","grid":true,"labelPadding":10,"labelFontSize":15,"title":"Storm surge /m","titleFontWeight":"normal","titleFontSize":16.5,"titlePadding":10}},
"color":{"field":"s","type":"nominal","scale":{"domain":["Obs-"],"range":["#0000ff"]},"legend":{"title":null,"orient":"none","legendX":329.5,"legendY":4.2,"symbolSize":24,"symbolStrokeWidth":0,"symbolType":"circle","labelOffset":15.5}}
}},
{"transform":[{"filter":"datum.s=='ADCIRC'"}],
"mark":{"type":"line","strokeWidth":1.5},
"encoding":{
"x":{"field":"t","type":"temporal","axis":{"orient":"top","values":[{"year":2018,"month":9,"date":13,"hours":12},{"year":2018,"month":9,"date":14,"hours":12},{"year":2018,"month":9,"date":15,"hours":12},{"year":2018,"month":9,"date":16,"hours":12},{"year":2018,"month":9,"date":17,"hours":12}],"labels":false,"grid":false,"title":null}},
"y":{"field":"v","type":"quantitative","axis":{"orient":"right","values":[0,1,2,3,4],"tickCount":20,"labels":false,"grid":false,"title":null}},
"color":{"field":"s","type":"nominal","scale":{"domain":["ADCIRC"],"range":["#ff0000"]},"legend":{"title":null,"orient":"none","legendX":315,"legendY":14.2,"symbolSize":1089,"symbolStrokeWidth":1.5,"labelOffset":0}}
}},
{"data":{"values":[{"label":"1822-SZ"}]},
"mark":{"type":"text","align":"left","baseline":"middle","font":"Liberation Serif","fontWeight":"bold","fontSize":15,"color":"black"},
"encoding":{"x":{"datum":{"year":2018,"month":9,"date":13,"hours":13,"minutes":3},"type":"temporal","axis":null},"y":{"datum":3.7,"type":"quantitative","axis":null},"text":{"field":"label"}}}
],
"resolve":{"scale":{"color":"independent"},"legend":{"color":"independent"}}
},
{
"width":411,"height":239,
"title":{"text":"B","dx":-54,"offset":-5},
"data":{"name":"B"},
"layer":[
{"transform":[{"filter":"datum.s=='Obs-'"}],
"mark":{"type":"circle","size":24,"opacity":1},
"encoding":{
"x":{"field":"t","type":"temporal","scale":{"domain":[{"year":2018,"month":9,"date":13,"hours":12},{"year":2018,"month":9,"date":18,"hours":0}]},
"axis":{"orient":"bottom","values":[{"year":2018,"month":9,"date":13,"hours":12},{"year":2018,"month":9,"date":14,"hours":12},{"year":2018,"month":9,"date":15,"hours":12},{"year":2018,"month":9,"date":16,"hours":12},{"year":2018,"month":9,"date":17,"hours":12}],"format":"%H/%d/%m","grid":true,"labelPadding":13,"title":"Time \u00a0(hour/day/month)","titlePadding":12}},
"y":{"field":"v","type":"quantitative","scale":{"domain":[-0.5,4],"nice":false,"zero":false},
"axis":{"orient":"left","values":[0,1,2,3,4],"tickCount":20,"format":".1f","grid":true,"labelPadding":14.5,"labelFontSize":15,"title":"Storm surge /m","titleFontWeight":"normal","titleFontSize":16.5,"titlePadding":2}},
"color":{"field":"s","type":"nominal","scale":{"domain":["Obs-"],"range":["#0000ff"]},"legend":{"title":null,"orient":"none","legendX":327.5,"legendY":6.5,"symbolSize":24,"symbolStrokeWidth":0,"symbolType":"circle","labelOffset":15.2}}
}},
{"transform":[{"filter":"datum.s=='ADCIRC'"}],
"mark":{"type":"line","strokeWidth":1.5},
"encoding":{
"x":{"field":"t","type":"temporal","axis":{"orient":"top","values":[{"year":2018,"month":9,"date":13,"hours":12},{"year":2018,"month":9,"date":14,"hours":12},{"year":2018,"month":9,"date":15,"hours":12},{"year":2018,"month":9,"date":16,"hours":12},{"year":2018,"month":9,"date":17,"hours":12}],"labels":false,"grid":false,"title":null}},
"y":{"field":"v","type":"quantitative","axis":{"orient":"right","values":[0,1,2,3,4],"tickCount":20,"labels":false,"grid":false,"title":null}},
"color":{"field":"s","type":"nominal","scale":{"domain":["ADCIRC"],"range":["#ff0000"]},"legend":{"title":null,"orient":"none","legendX":314,"legendY":15.8,"symbolSize":1089,"symbolStrokeWidth":1.5,"labelOffset":2.7}}
}},
{"data":{"values":[{"label":"1822-DLS"}]},
"mark":{"type":"text","align":"left","baseline":"middle","font":"Liberation Serif","fontWeight":"bold","fontSize":15,"color":"black"},
"encoding":{"x":{"datum":{"year":2018,"month":9,"date":13,"hours":14,"minutes":0},"type":"temporal","axis":null},"y":{"datum":3.67,"type":"quantitative","axis":null},"text":{"field":"label"}}}
],
"resolve":{"scale":{"color":"independent"},"legend":{"color":"independent"}}
},
{
"width":411,"height":240,
"title":{"text":"C","dx":-60,"offset":-9},
"data":{"name":"C"},
"layer":[
{"transform":[{"filter":"datum.s=='Obs-'"}],
"mark":{"type":"circle","size":24,"opacity":1},
"encoding":{
"x":{"field":"t","type":"temporal","scale":{"domain":[{"year":2022,"month":10,"date":16,"hours":0},{"year":2022,"month":10,"date":20,"hours":6}]},
"axis":{"orient":"bottom","values":[{"year":2022,"month":10,"date":16,"hours":0},{"year":2022,"month":10,"date":17,"hours":0},{"year":2022,"month":10,"date":18,"hours":0},{"year":2022,"month":10,"date":19,"hours":0},{"year":2022,"month":10,"date":20,"hours":0}],"format":"%H/%d/%m","grid":true,"labelPadding":13,"title":"Time \u00a0(hour/day/month)","titlePadding":12}},
"y":{"field":"v","type":"quantitative","scale":{"domain":[-0.2,1],"nice":false,"zero":false},
"axis":{"orient":"left","values":[-0.2,0,0.2,0.4,0.6,0.8,1],"tickCount":20,"format":".1f","grid":true,"labelPadding":11.7,"labelFontSize":15,"title":"Storm surge /m","titleFontWeight":"bold","titleFontSize":9.5,"titlePadding":4.6}},
"color":{"field":"s","type":"nominal","scale":{"domain":["Obs-"],"range":["#0000ff"]},"legend":{"title":null,"orient":"none","legendX":325.5,"legendY":5.2,"symbolSize":24,"symbolStrokeWidth":0,"symbolType":"circle","labelOffset":18.5}}
}},
{"transform":[{"filter":"datum.s=='ADCIRC'"}],
"mark":{"type":"line","strokeWidth":1.5},
"encoding":{
"x":{"field":"t","type":"temporal","axis":{"orient":"top","values":[{"year":2022,"month":10,"date":16,"hours":0},{"year":2022,"month":10,"date":17,"hours":0},{"year":2022,"month":10,"date":18,"hours":0},{"year":2022,"month":10,"date":19,"hours":0},{"year":2022,"month":10,"date":20,"hours":0}],"labels":false,"grid":false,"title":null}},
"y":{"field":"v","type":"quantitative","axis":{"orient":"right","values":[-0.2,0,0.2,0.4,0.6,0.8,1],"tickCount":20,"labels":false,"grid":false,"title":null}},
"color":{"field":"s","type":"nominal","scale":{"domain":["ADCIRC"],"range":["#ff0000"]},"legend":{"title":null,"orient":"none","legendX":310.3,"legendY":15.8,"symbolSize":1089,"symbolStrokeWidth":1.5,"labelOffset":3.7}}
}},
{"data":{"values":[{"label":"2220-SZ"}]},
"mark":{"type":"text","align":"left","baseline":"middle","font":"Liberation Serif","fontWeight":"bold","fontSize":15,"color":"black"},
"encoding":{"x":{"datum":{"year":2022,"month":10,"date":16,"hours":3,"minutes":28},"type":"temporal","axis":null},"y":{"datum":0.917,"type":"quantitative","axis":null},"text":{"field":"label"}}}
],
"resolve":{"scale":{"color":"independent"},"legend":{"color":"independent"}}
},
{
"width":411,"height":240,
"title":{"text":"D","dx":-54,"offset":-9},
"data":{"name":"D"},
"layer":[
{"transform":[{"filter":"datum.s=='Obs-'"}],
"mark":{"type":"point","shape":"square","filled":true,"size":25,"opacity":1},
"encoding":{
"x":{"field":"t","type":"temporal","scale":{"domain":[{"year":2022,"month":10,"date":16,"hours":0},{"year":2022,"month":10,"date":20,"hours":12}]},
"axis":{"orient":"bottom","values":[{"year":2022,"month":10,"date":16,"hours":0},{"year":2022,"month":10,"date":17,"hours":0},{"year":2022,"month":10,"date":18,"hours":0},{"year":2022,"month":10,"date":19,"hours":0},{"year":2022,"month":10,"date":20,"hours":0}],"format":"%H/%d/%m","grid":true,"labelPadding":13,"title":"Time \u00a0(hour/day/month)","titlePadding":12}},
"y":{"field":"v","type":"quantitative","scale":{"domain":[-0.2,1],"nice":false,"zero":false},
"axis":{"orient":"left","values":[-0.2,0,0.2,0.4,0.6,0.8,1],"tickCount":20,"format":".1f","grid":true,"labelPadding":11.7,"labelFontSize":15,"title":"Storm surge /m","titleFontWeight":"bold","titleFontSize":15.5,"titlePadding":1.6}},
"color":{"field":"s","type":"nominal","scale":{"domain":["Obs-"],"range":["#0000ff"]},"legend":{"title":null,"orient":"none","legendX":328.2,"legendY":6.5,"symbolSize":25,"symbolStrokeWidth":0,"symbolType":"square","labelOffset":16.8}}
}},
{"transform":[{"filter":"datum.s=='ADCIRC'"}],
"mark":{"type":"line","strokeWidth":1.5},
"encoding":{
"x":{"field":"t","type":"temporal","axis":{"orient":"top","values":[{"year":2022,"month":10,"date":16,"hours":0},{"year":2022,"month":10,"date":17,"hours":0},{"year":2022,"month":10,"date":18,"hours":0},{"year":2022,"month":10,"date":19,"hours":0},{"year":2022,"month":10,"date":20,"hours":0}],"labels":false,"grid":false,"title":null}},
"y":{"field":"v","type":"quantitative","axis":{"orient":"right","values":[-0.2,0,0.2,0.4,0.6,0.8,1],"tickCount":20,"labels":false,"grid":false,"title":null}},
"color":{"field":"s","type":"nominal","scale":{"domain":["ADCIRC"],"range":["#ff0000"]},"legend":{"title":null,"orient":"none","legendX":314,"legendY":15.8,"symbolSize":1089,"symbolStrokeWidth":1.5,"labelOffset":1}}
}},
{"data":{"values":[{"label":"2220-DLS"}]},
"mark":{"type":"text","align":"left","baseline":"middle","font":"Liberation Serif","fontWeight":"bold","fontSize":15,"color":"black"},
"encoding":{"x":{"datum":{"year":2022,"month":10,"date":16,"hours":3,"minutes":30},"type":"temporal","axis":null},"y":{"datum":0.914,"type":"quantitative","axis":null},"text":{"field":"label"}}}
],
"resolve":{"scale":{"color":"independent"},"legend":{"color":"independent"}}
}
]
}
